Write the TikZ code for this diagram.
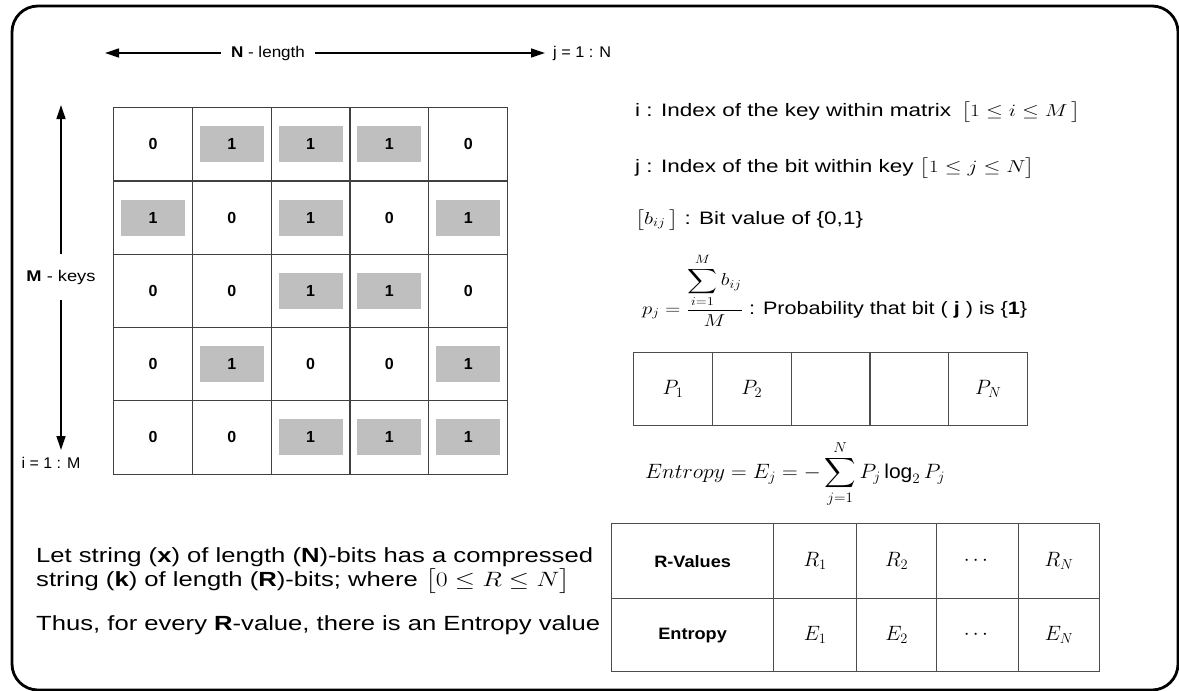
\documentclass[tikz,border=0pt]{standalone}
\usepackage{amsmath}
\usepackage{fontspec}
\setmainfont{Liberation Sans}
\usetikzlibrary{arrows.meta}
\newcommand{\hstr}[2][1.25]{\scalebox{#1}[1]{#2}}
\begin{document}
\begin{tikzpicture}[x=1pt,y=-1pt,
  grid/.style={draw=black!75,line width=1.2pt,minimum width=78.8pt,minimum height=73.3pt,inner sep=0pt,anchor=north west},
  tcell/.style={draw=black!70,line width=1.2pt,inner sep=0pt,anchor=north west},
  onebox/.style={fill=black!25,minimum width=64pt,minimum height=36pt,inner sep=0pt},
  digit/.style={font=\fontsize{16}{19}\selectfont\bfseries},
  lbl/.style={font=\fontsize{15.5}{18}\selectfont},
  txt/.style={font=\fontsize{18}{22}\selectfont,anchor=west,inner sep=0pt},
  btxt/.style={font=\fontsize{20.5}{23}\selectfont,anchor=west,inner sep=0pt},
  arr/.style={-{Triangle[length=14pt,width=9pt]},line width=1.3pt},
  mth/.style={font=\fontsize{20}{23}\selectfont},
  hdr/.style={font=\fontsize{16.5}{19}\selectfont\bfseries}
]
\useasboundingbox (0,0) rectangle (1179,691);
% outer frame
\draw[line width=2.8pt,rounded corners=26pt] (12,6) rectangle (1178,690);

% top arrow
\node[lbl,inner sep=10pt] (nlen) at (268,53) {\hstr[1.1]{\textbf{N} - length}};
\coordinate (nl) at (105,53);
\coordinate (nr) at (545,53);
\draw[arr] (nlen.west) -- (nl);
\draw[arr] (nlen.east) -- (nr);
\node[lbl,anchor=west,inner sep=0pt] (jn) at (553,53) {\hstr[1.05]{j = 1 : N}};

% vertical arrow
\node[lbl,inner sep=0pt,minimum height=46pt] (mk) at (61,277) {\hstr[1.18]{\textbf{M} - keys}};
\coordinate (mt) at (61,105);
\coordinate (mb) at (61,450);
\draw[arr] (mk.north) -- (mt);
\draw[arr] (mk.south) -- (mb);
\node[lbl,inner sep=0pt] (im) at (51,463) {\hstr[1.03]{i = 1 : M}};

% matrix
\foreach \row [count=\r from 0] in {{0,1,1,1,0},{1,0,1,0,1},{0,0,1,1,0},{0,1,0,0,1},{0,0,1,1,1}} {
  \foreach \v [count=\c from 0] in \row {
    \node[grid] (m-\r-\c) at ({113+78.8*\c},{107+73.3*\r}) {};
    \ifnum\v=1
      \node[onebox,digit] (v-\r-\c) at (m-\r-\c.center) {1};
    \else
      \node[digit] (v-\r-\c) at (m-\r-\c.center) {0};
    \fi
  }
}

% right-hand text
\node[txt] (t1) at (635,112) {\hstr{i : Index of the key within matrix \,$\bigl[1\le i\le M\,\bigr]$}};
\node[txt] (t2) at (635,168) {\hstr{j : Index of the bit within key $\bigl[1\le j\le N\bigr]$}};
\node[txt] (t3) at (635,220) {\hstr{$\bigl[b_{ij}\,\bigr]$ : Bit value of \{0,1\}}};
\node[txt] (t4) at (642,290) {\hstr[1.2]{$p_j=\dfrac{\displaystyle\sum_{i=1}^{M} b_{ij}}{M}$ : Probability that bit ( \textbf{j} ) is \{\textbf{1}\}}};

% P table
\foreach \t [count=\c from 0] in {$P_1$,$P_2$,,,$P_N$} {
  \node[tcell,mth,minimum width=78.8pt,minimum height=73pt] (p-\c) at ({633+78.8*\c},352) {\t};
}

% entropy formula
\node[txt,font=\fontsize{20}{24}\selectfont] (ent) at (645,474) {\hstr[1.05]{$Entropy=E_j=-\displaystyle\sum_{j=1}^{N}P_j\log_2 P_j$}};

% bottom-left text
\node[btxt] (b1) at (36,557) {\hstr{Let string (\textbf{x}) of length (\textbf{N})-bits has a compressed}};
\node[btxt] (b1b) at (36,581) {\hstr{string (\textbf{k}) of length (\textbf{R})-bits; where $\bigl[0\le R\le N\bigr]$}};
\node[btxt] (b2) at (36,625) {\hstr{Thus, for every \textbf{R}-value, there is an Entropy value}};

% bottom table
\node[tcell,hdr,minimum width=162pt,minimum height=75pt] (r0) at (611,523) {\hstr[1.1]{R-Values}};
\node[tcell,hdr,minimum width=162pt,minimum height=73pt] (e0) at (611,598) {\hstr[1.1]{Entropy}};
\foreach \x/\w/\rt/\et [count=\c] in {773/83/$R_1$/$E_1$,856/80/$R_2$/$E_2$,936/82/$\cdots$/$\cdots$,1018/81/$R_N$/$E_N$} {
  \node[tcell,mth,minimum width=\w pt,minimum height=75pt] (r\c) at (\x,523) {\rt};
  \node[tcell,mth,minimum width=\w pt,minimum height=73pt] (e\c) at (\x,598) {\et};
}
\end{tikzpicture}
\end{document}
